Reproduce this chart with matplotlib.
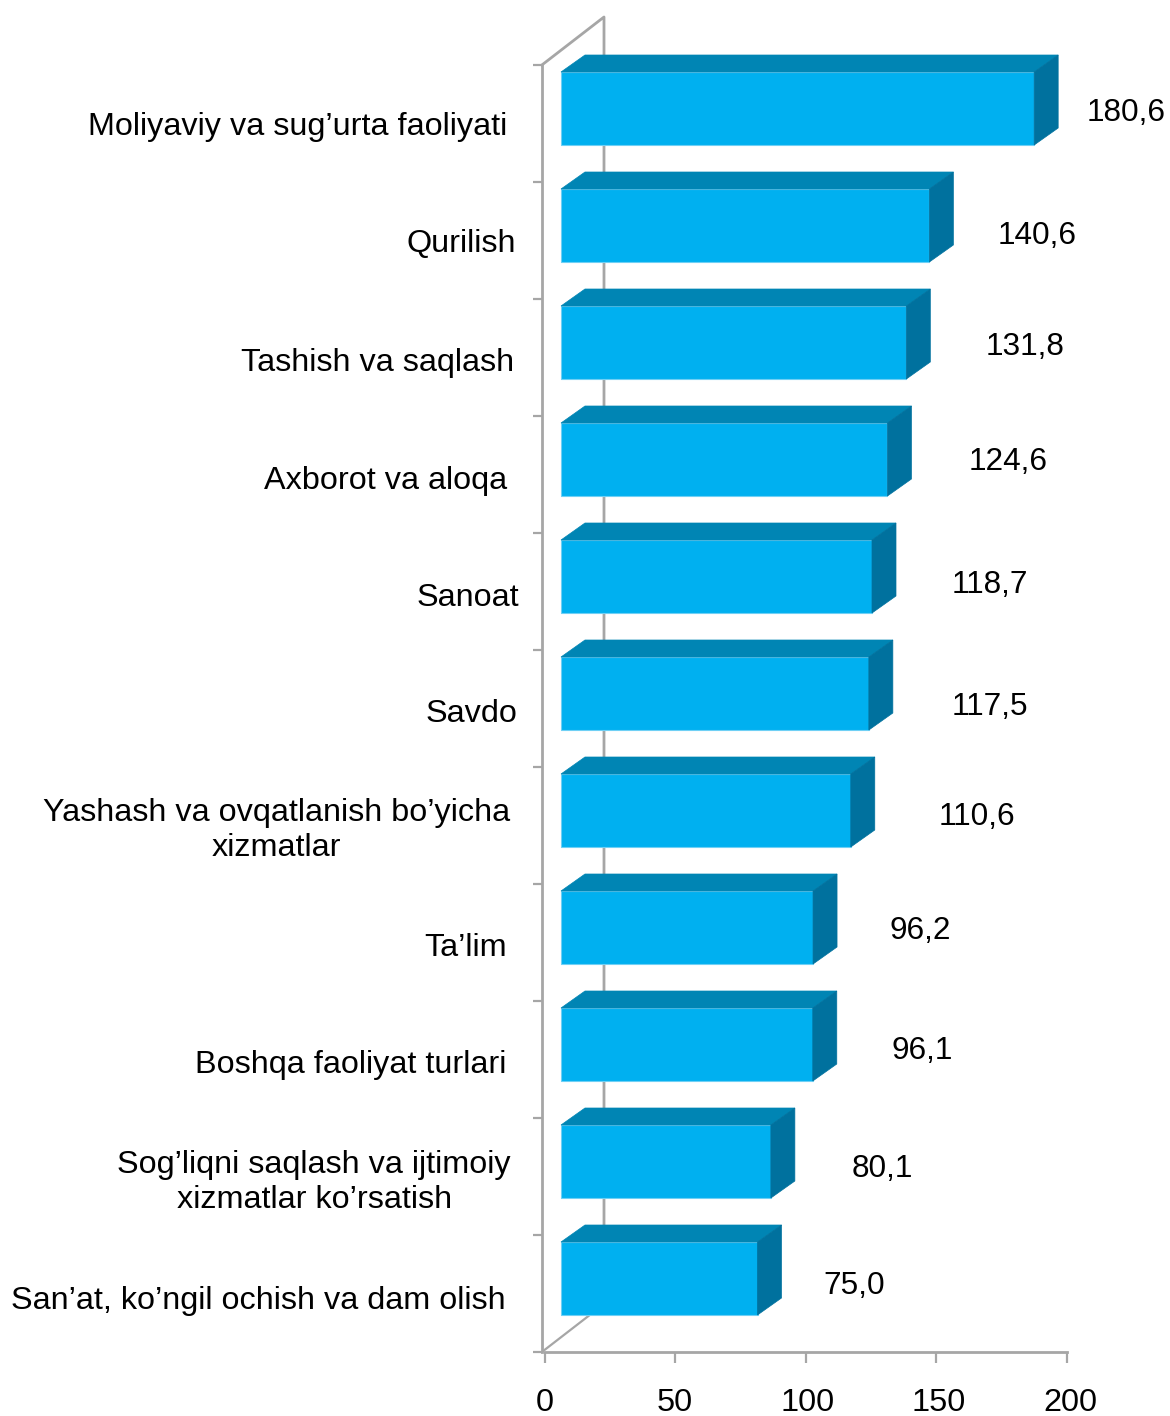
import matplotlib
matplotlib.use("Agg")
import matplotlib.pyplot as plt
from matplotlib.patches import Polygon
from matplotlib.lines import Line2D
from matplotlib.transforms import ScaledTranslation

categories = [
    "Moliyaviy va sug\u2019urta faoliyati", "Qurilish", "Tashish va saqlash",
    "Axborot va aloqa", "Sanoat", "Savdo",
    "Yashash va ovqatlanish bo\u2019yicha\nxizmatlar", "Ta\u2019lim",
    "Boshqa faoliyat turlari", "Sog\u2019liqni saqlash va ijtimoiy\nxizmatlar ko\u2019rsatish",
    "San\u2019at, ko\u2019ngil ochish va dam olish",
]
values = [180.6, 140.6, 131.8, 124.6, 118.7, 117.5, 110.6, 96.2, 96.1, 80.1, 75.0]
value_labels = ["180,6", "140,6", "131,8", "124,6", "118,7", "117,5", "110,6", "96,2", "96,1", "80,1", "75,0"]
x_ticks = [0, 50, 100, 150, 200]

# label placement (pixels)
label_right = [507, 516, 514, 507, 519, 517, 510, 507, 506, 511, 506]
label_dy = [4, 3, 5, 6, 6, 5.5, 5, 5, 5.5, 6, 7]
value_dx = [92, 108, 119, 121, 118, 121, 126, 107, 109, 111, 97]
value_dy = [-10.5, -4.5, -10.5, -12.5, -6.5, -1.5, -8.5, -11.5, -8.5, -7.5, -7.5]
tick_label_dx = [0, 0, 2, 2, 3]

W, H = 1170, 1416
X0, X1, Y0, Y1 = 544.5, 1067.0, 65.0, 1352.0
FRONT, TOP, SIDE, EDGE = "#00B0F0", "#0085B4", "#00719E", "#6FD0F5"
AXIS = "#A6A6A6"
FONT = "Liberation Sans"

plt.rcParams["font.family"] = [FONT, "DejaVu Sans"]
fig = plt.figure(figsize=(W / 100, H / 100), dpi=100)
ax = fig.add_axes([X0 / W, 1 - Y1 / H, (X1 - X0) / W, (Y1 - Y0) / H])
ax.set_xlim(0, 200)
n = len(values)
ax.set_ylim(n - 0.5, -0.5)
ppx = 200 / (X1 - X0)
ppy = n / (Y1 - Y0)

# axes
for s in ("top", "right"):
    ax.spines[s].set_visible(False)
ax.spines["left"].set_color(AXIS)
ax.spines["bottom"].set_color(AXIS)
ax.spines["left"].set_linewidth(2)
ax.spines["bottom"].set_linewidth(2)
ax.spines["left"].set_position(("outward", 1.8))
ax.set_xticks(x_ticks)
ax.set_yticks([i - 0.5 for i in range(n + 1)])
ax.set_yticklabels([])
ax.tick_params(axis="x", colors=AXIS, length=8, width=1.6, labelsize=23.4, labelcolor="black", pad=18)
ax.tick_params(axis="y", colors=AXIS, length=6.5, width=1.6)
ax.patch.set_visible(False)
for lab, d in zip(ax.get_xticklabels(), tick_label_dx):
    lab.set_transform(lab.get_transform() + ScaledTranslation(d / 100, 0, fig.dpi_scale_trans))

# back wall
wx = 59.5 * ppx
wy = 48 * ppy
ax.add_line(Line2D([-1, wx, wx], [-0.5, -0.5 - wy, n - 0.5 - wy], color=AXIS, lw=2, clip_on=False, zorder=1))
ax.add_line(Line2D([-1, wx], [n - 0.5, n - 0.5 - wy], color=AXIS, lw=1.6, clip_on=False, zorder=1))

# bars
left = 16.5 * ppx
scale = 2.62 / 2.6125
h = 73 * ppy
dx = 24 * ppx
dy = 17 * ppy
shift = -15 * ppy
ys = [i + shift for i in range(n)]
widths = [v * scale for v in values]
ax.barh(ys, widths, left=left, height=h, color=FRONT, edgecolor=EDGE, linewidth=0.8, zorder=3)
for y, w in zip(ys, widths):
    t, b, r = y - h / 2, y + h / 2, left + w
    ax.add_patch(Polygon([(left, t), (left + dx, t - dy), (r + dx, t - dy), (r, t)],
                         fc=TOP, ec=TOP, lw=0.5, zorder=3, clip_on=False))
    ax.add_patch(Polygon([(r, t), (r + dx, t - dy), (r + dx, b - dy), (r, b)],
                         fc=SIDE, ec=SIDE, lw=0.5, zorder=3, clip_on=False))

# texts
for i, (cat, right, d) in enumerate(zip(categories, label_right, label_dy)):
    ax.annotate(cat, xy=(0, i), xytext=(right - X0, -d), xycoords="data", textcoords="offset pixels",
                ha="right", va="center", ma="center", fontsize=23.3, linespacing=1.23, annotation_clip=False)
for i, (v, lab, ox, oy) in enumerate(zip(values, value_labels, value_dx, value_dy)):
    ax.annotate(lab, xy=(left + v * scale, i), xytext=(ox, -oy), xycoords="data", textcoords="offset pixels",
                ha="center", va="center", fontsize=22.7, annotation_clip=False)

fig.savefig("out.png", dpi=100, facecolor="white")
